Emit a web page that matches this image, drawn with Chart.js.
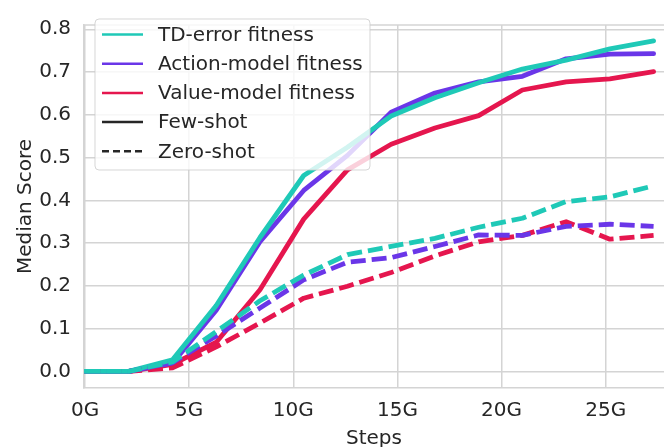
<!DOCTYPE html>
<html>
<head>
<meta charset="utf-8">
<script src="https://cdn.jsdelivr.net/npm/chart.js@4"></script>
<style>
  html, body { margin: 0; padding: 0; background: #fff; }
  #wrap { width: 664px; height: 447px; }
</style>
</head>
<body>
<div id="wrap"><canvas id="chart" width="664" height="447"></canvas></div>
<script>
const steps = [0, 2.1, 4.2, 6.3, 8.4, 10.5, 12.6, 14.7, 16.8, 18.9, 21.0, 23.1, 25.2, 27.3];

const tdFew     = [0, 0, 0.027, 0.154, 0.313, 0.458, 0.524, 0.597, 0.640, 0.675, 0.707, 0.728, 0.754, 0.773];
const actionFew = [0, 0, 0.019, 0.143, 0.303, 0.423, 0.505, 0.606, 0.651, 0.677, 0.690, 0.731, 0.742, 0.743];
const valueFew  = [0, 0, 0.016, 0.068, 0.191, 0.356, 0.471, 0.531, 0.569, 0.598, 0.658, 0.677, 0.684, 0.701];

const tdZero     = [0, 0, 0.022, 0.093, 0.165, 0.225, 0.273, 0.292, 0.311, 0.337, 0.358, 0.397, 0.408, 0.434];
const actionZero = [0, 0, 0.020, 0.083, 0.148, 0.214, 0.255, 0.266, 0.292, 0.319, 0.318, 0.339, 0.344, 0.339];
const valueZero  = [0, 0, 0.008, 0.057, 0.113, 0.171, 0.199, 0.231, 0.270, 0.303, 0.318, 0.350, 0.309, 0.318];

const xTicks = [0, 5, 10, 15, 20, 25];
const yTicks = [0, 0.1, 0.2, 0.3, 0.4, 0.5, 0.6, 0.7, 0.8];

const seriesNames = ['TD-error fitness', 'Action-model fitness', 'Value-model fitness'];
const colors = ['#1fc9b7', '#6a36e8', '#e5164e'];
const styleNames = ['Few-shot', 'Zero-shot'];

const textColor = '#262626';
const gridColor = '#d4d4d4';
const fontFamily = '"DejaVu Sans", sans-serif';

function pts(ys) {
    return steps.map((x, i) => ({ x, y: ys[i] }));
}

function line(ys, color, dashed) {
    return {
        data: pts(ys),
        borderColor: color,
        backgroundColor: color,
        borderWidth: 4.8,
        borderDash: dashed ? [15, 6] : [],
        pointRadius: 0,
        tension: 0,
        fill: false,
        borderCapStyle: dashed ? 'butt' : 'round',
        borderJoinStyle: 'round'
    };
}

// zero-shot lines first so few-shot sit on top
const datasets = [
    line(tdZero, colors[0], true),
    line(actionZero, colors[1], true),
    line(valueZero, colors[2], true),
    line(tdFew, colors[0], false),
    line(actionFew, colors[1], false),
    line(valueFew, colors[2], false)
];

// top frame + legend box inside the plot
const framePlugin = {
    id: 'frame',
    beforeDatasetsDraw(chart) {
        const { ctx, chartArea: a } = chart;
        ctx.save();
        ctx.strokeStyle = gridColor;
        ctx.lineWidth = 1.5;
        ctx.beginPath();
        ctx.moveTo(a.left, a.top);
        ctx.lineTo(a.right, a.top);
        ctx.stroke();
        ctx.restore();
    },
    afterDatasetsDraw(chart) {
        const { ctx } = chart;
        const bx = 95, by = 19, bw = 275, bh = 151;
        ctx.save();
        ctx.beginPath();
        ctx.roundRect(bx, by, bw, bh, 4);
        ctx.fillStyle = 'rgba(255,255,255,0.8)';
        ctx.fill();
        ctx.strokeStyle = 'rgba(204,204,204,0.8)';
        ctx.lineWidth = 1;
        ctx.stroke();

        const entries = seriesNames.map((n, i) => ({ label: n, color: colors[i], dash: [] }))
            .concat([
                { label: styleNames[0], color: textColor, dash: [] },
                { label: styleNames[1], color: textColor, dash: [7, 4] }
            ]);
        ctx.font = '20px ' + fontFamily;
        ctx.textBaseline = 'middle';
        entries.forEach((e, i) => {
            const y = 34.5 + i * 29.2;
            ctx.beginPath();
            ctx.setLineDash(e.dash);
            ctx.strokeStyle = e.color;
            ctx.lineWidth = 2.5;
            ctx.moveTo(102, y);
            ctx.lineTo(143, y);
            ctx.stroke();
            ctx.setLineDash([]);
            ctx.fillStyle = textColor;
            ctx.fillText(e.label, 158, y + 1);
        });
        ctx.restore();
    }
};

new Chart(document.getElementById('chart'), {
    type: 'line',
    data: { datasets },
    options: {
        responsive: false,
        animation: false,
        layout: { padding: { top: 9, right: 0, left: 0, bottom: -4 } },
        plugins: {
            legend: { display: false },
            tooltip: { enabled: false }
        },
        scales: {
            x: {
                type: 'linear',
                min: -0.05,
                max: 27.8,
                afterBuildTicks: axis => { axis.ticks = xTicks.map(v => ({ value: v })); },
                afterFit: axis => { axis.height = 63; },
                ticks: {
                    callback: v => v + 'G',
                    color: textColor,
                    font: { size: 20, family: fontFamily },
                    padding: 11,
                    maxRotation: 0
                },
                grid: { color: gridColor, lineWidth: 1.5, drawTicks: false },
                border: { color: gridColor, width: 1.5 },
                title: {
                    display: true,
                    text: 'Steps',
                    color: textColor,
                    font: { size: 20, family: fontFamily },
                    padding: { top: 0, bottom: 0 }
                }
            },
            y: {
                type: 'linear',
                min: -0.039,
                max: 0.81,
                afterBuildTicks: axis => { axis.ticks = yTicks.map(v => ({ value: v })); },
                afterFit: axis => { axis.width = 84; },
                ticks: {
                    callback: v => v.toFixed(1),
                    color: textColor,
                    font: { size: 20, family: fontFamily },
                    padding: 13
                },
                grid: { color: gridColor, lineWidth: 1.5, drawTicks: false },
                border: { color: gridColor, width: 1.5 },
                title: {
                    display: true,
                    text: 'Median Score',
                    color: textColor,
                    font: { size: 20, family: fontFamily },
                    padding: { top: 14, bottom: 0 }
                }
            }
        }
    },
    plugins: [framePlugin]
});
</script>
</body>
</html>
